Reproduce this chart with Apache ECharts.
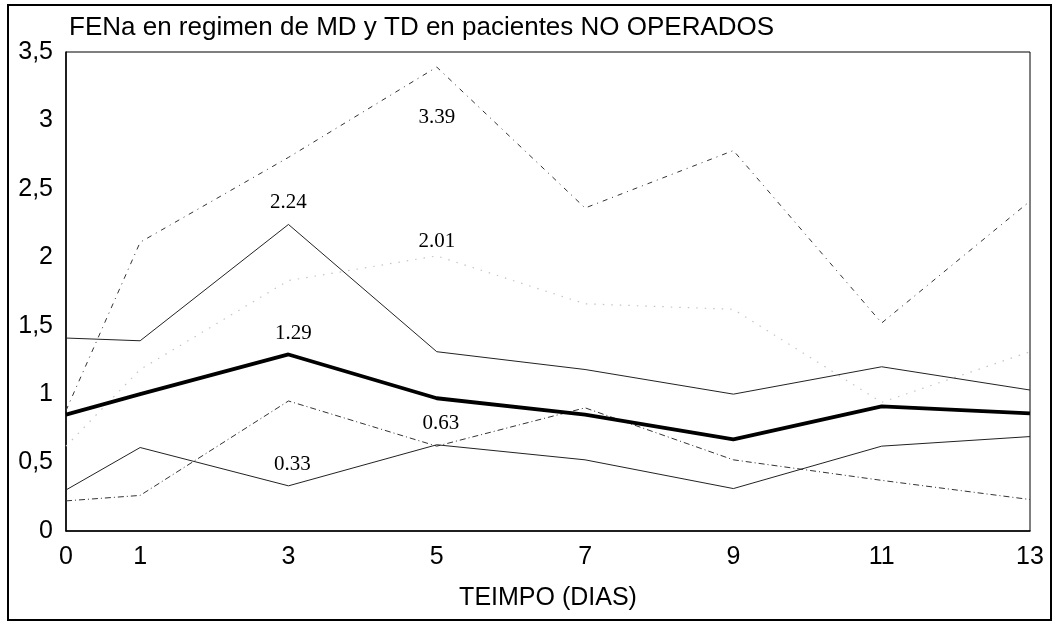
<!DOCTYPE html>
<html>
<head>
<meta charset="utf-8">
<script src="https://cdn.jsdelivr.net/npm/echarts@6/dist/echarts.min.js"></script>
<style>
  html, body { margin: 0; padding: 0; background: #fff; }
  #chart { width: 1054px; height: 622px; }
  #frame { position: absolute; left: 7px; top: 4px; width: 1041px; height: 613px; border: 2px solid #000; pointer-events: none; }
</style>
</head>
<body>
<div id="chart"></div>
<div id="frame"></div>
<script>
// ---- data ----
const titleText = 'FENa en regimen de MD y TD en pacientes NO OPERADOS';
const xAxisName = 'TEIMPO (DIAS)';
const days = [0, 1, 3, 5, 7, 9, 11, 13];
const xTickLabels = [0, 1, 3, 5, 7, 9, 11, 13];
const mdMean  = [0.85, 1.00, 1.29, 0.97, 0.85, 0.67, 0.91, 0.86];
const mdUpper = [1.41, 1.39, 2.24, 1.31, 1.18, 1.00, 1.20, 1.03];
const mdLower = [0.30, 0.61, 0.33, 0.63, 0.52, 0.31, 0.62, 0.69];
const tdUpper = [0.88, 2.11, 2.73, 3.39, 2.36, 2.78, 1.52, 2.41];
const tdMean  = [0.62, 1.18, 1.83, 2.01, 1.66, 1.62, 0.94, 1.31];
const tdLower = [0.22, 0.26, 0.95, 0.62, 0.90, 0.52, 0.37, 0.23];
// days whose values are written on the chart
const mdMeanLabelDays  = [3];
const mdUpperLabelDays = [3];
const mdLowerLabelDays = [3, 5];
const tdUpperLabelDays = [5];
const tdMeanLabelDays  = [5];
const tdLowerLabelDays = [];

function build(values, labelDays) {
  return days.map((d, i) => ({
    value: [d, values[i]],
    label: { show: labelDays.indexOf(d) >= 0 }
  }));
}

const labelFont = { fontFamily: 'Liberation Serif', fontSize: 21, color: '#000',
  formatter: p => p.value[1].toFixed(2) };

function series(name, values, labelDays, lineStyle, labelPos, z) {
  return {
    name, type: 'line', data: build(values, labelDays),
    symbol: 'circle', symbolSize: 0, showSymbol: true,
    lineStyle, z: z || 2,
    label: Object.assign({ show: false }, labelFont, labelPos),
    emphasis: { disabled: true }, silent: true
  };
}

const chart = echarts.init(document.getElementById('chart'), null, { renderer: 'canvas' });
chart.setOption({
  animation: false,
  backgroundColor: '#fff',
  title: {
    text: titleText, left: 64, top: 10,
    textStyle: { fontFamily: 'Liberation Sans', fontSize: 26, fontWeight: 'normal', color: '#000' }
  },
  grid: { left: 66, right: 24, top: 52, bottom: 91, show: true, borderColor: '#000', borderWidth: 1 },
  xAxis: {
    type: 'value', min: 0, max: 13, interval: 1,
    name: xAxisName, nameLocation: 'middle', nameGap: 55,
    nameTextStyle: { fontFamily: 'Liberation Sans', fontSize: 25, color: '#000' },
    axisLine: { show: true, lineStyle: { color: '#000', width: 1.5 } },
    axisTick: { show: false },
    splitLine: { show: false },
    axisLabel: {
      fontFamily: 'Liberation Sans', fontSize: 25, color: '#000', margin: 14,
      formatter: v => xTickLabels.indexOf(v) >= 0 ? String(v) : ''
    }
  },
  yAxis: {
    type: 'value', min: 0, max: 3.5, interval: 0.5,
    axisLine: { show: true, lineStyle: { color: '#000', width: 1.5 } },
    axisTick: { show: false },
    splitLine: { show: false },
    axisLabel: {
      fontFamily: 'Liberation Sans', fontSize: 25, color: '#000', margin: 13,
      formatter: v => String(v).replace('.', ',')
    }
  },
  series: [
    series('TD+', tdUpper, tdUpperLabelDays, { color: '#333', width: 1, type: [5, 5, 1, 5] }, { position: 'bottom', distance: 40 }),
    series('TD media', tdMean, tdMeanLabelDays, { color: '#c4c4c4', width: 1.2, type: [1.5, 7] }, { position: 'top', distance: 4 }),
    series('TD-', tdLower, tdLowerLabelDays, { color: '#333', width: 1, type: [6, 3, 1, 3] }, { position: 'top', distance: 10 }),
    series('MD+', mdUpper, mdUpperLabelDays, { color: '#222', width: 1 }, { position: 'top', distance: 11 }),
    series('MD-', mdLower, mdLowerLabelDays, { color: '#222', width: 1 }, { position: 'top', distance: 11, offset: [4, 0] }),
    series('MD media', mdMean, mdMeanLabelDays, { color: '#000', width: 3.8 }, { position: 'top', distance: 10, offset: [5, 0] }, 3)
  ]
});
</script>
</body>
</html>
